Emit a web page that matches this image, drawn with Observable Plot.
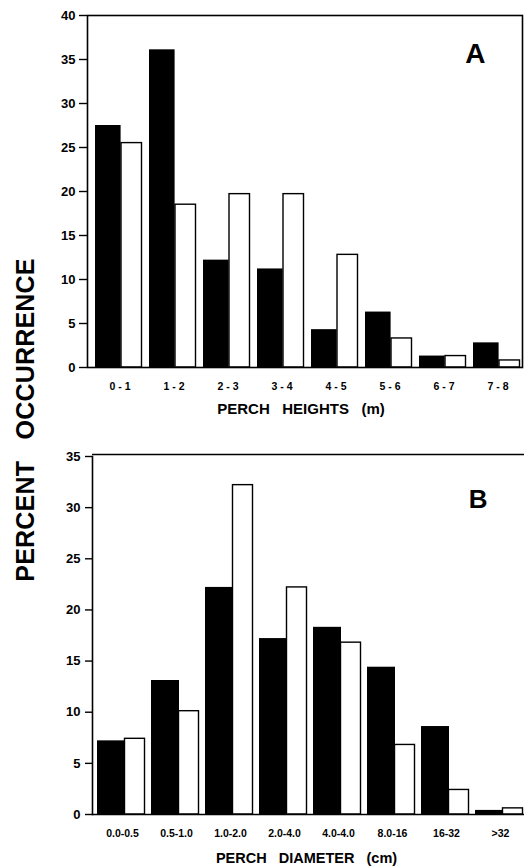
<!DOCTYPE html>
<html>
<head>
<meta charset="utf-8">
<script src="https://cdn.jsdelivr.net/npm/d3@7"></script>
<script src="https://cdn.jsdelivr.net/npm/@observablehq/plot@0.6"></script>
<style>
  html, body { margin: 0; padding: 0; background: #fff; }
  #wrap { position: relative; width: 531px; height: 868px; overflow: hidden; background: #fff; }
  #panelA { position: absolute; left: 0; top: 0; }
  #panelB { position: absolute; left: 0; top: 420px; }
  #ylab {
    position: absolute; left: 25px; top: 420px;
    transform: translate(-50%, -50%) rotate(-90deg);
    font-family: "Liberation Sans", Arial, sans-serif; font-weight: bold;
    font-size: 25px; white-space: nowrap; letter-spacing: 0.2px; color: #000;
  }
</style>
</head>
<body>
<div id="wrap">
  <div id="panelA"></div>
  <div id="panelB"></div>
  <div id="ylab">PERCENT&nbsp;&nbsp; OCCURRENCE</div>
</div>
<script>
// Panel A: perch heights
const heightCats = ["0 - 1", "1 - 2", "2 - 3", "3 - 4", "4 - 5", "5 - 6", "6 - 7", "7 - 8"];
const heightBlack = [27.5, 36.1, 12.2, 11.2, 4.3, 6.3, 1.3, 2.8];
const heightWhite = [25.5, 18.5, 19.7, 19.7, 12.8, 3.3, 1.3, 0.8];
const heightTicks = [0, 5, 10, 15, 20, 25, 30, 35, 40];

// Panel B: perch diameter
const diamCats = ["0.0-0.5", "0.5-1.0", "1.0-2.0", "2.0-4.0", "4.0-4.0", "8.0-16", "16-32", ">32"];
const diamBlack = [7.2, 13.1, 22.2, 17.2, 18.3, 14.4, 8.6, 0.4];
const diamWhite = [7.4, 10.1, 32.2, 22.2, 16.8, 6.8, 2.4, 0.6];
const diamTicks = [0, 5, 10, 15, 20, 25, 30, 35];

const heightData = heightCats.map((c, i) => ({cat: c, black: heightBlack[i], white: heightWhite[i]}));
const diamData = diamCats.map((c, i) => ({cat: c, black: diamBlack[i], white: diamWhite[i]}));

const font = {fontFamily: "'Liberation Sans', Arial, sans-serif", fontWeight: "bold", background: "#fff", color: "#000", overflow: "visible"};

const plotA = Plot.plot({
  width: 531, height: 420,
  marginLeft: 87, marginRight: 9, marginTop: 15, marginBottom: 53,
  style: font,
  x: {domain: heightCats, padding: 0},
  y: {domain: [0, 40]},
  marks: [
    Plot.barY(heightData, {x: "cat", y: "black", fill: "black", insetLeft: 6, insetRight: 22.4}),
    Plot.barY(heightData, {x: "cat", y: "white", fill: "white", stroke: "black", strokeWidth: 1.4, insetLeft: 32, insetRight: 1.5}),
    Plot.frame({stroke: "black", strokeWidth: 1.6}),
    Plot.axisY({ticks: heightTicks, tickSize: 8, tickPadding: 4, fontSize: 13, fontWeight: "bold", label: null, strokeWidth: 1.4, style: {letterSpacing: "1px"}}),
    Plot.axisX({tickSize: 0, tickPadding: 15, fontSize: 10.5, fontWeight: "bold", dx: 3.5, label: null, style: {letterSpacing: "1px"}}),
    Plot.text(["PERCH\u00a0\u00a0 HEIGHTS\u00a0\u00a0 (m)"], {frameAnchor: "bottom", lineAnchor: "middle", dy: 42, dx: -4, fontSize: 15, fontWeight: "bold", style: {letterSpacing: "0.8px"}}),
    Plot.text(["A"], {frameAnchor: "top-right", textAnchor: "end", lineAnchor: "top", dx: -37, dy: 28, fontSize: 28, fontWeight: "bold"})
  ]
});
document.getElementById("panelA").appendChild(plotA);

const plotB = Plot.plot({
  width: 531, height: 448,
  marginLeft: 92, marginRight: 7, marginTop: 36, marginBottom: 54,
  style: font,
  x: {domain: diamCats, padding: 0},
  y: {domain: [0, 35]},
  marks: [
    Plot.barY(diamData, {x: "cat", y: "black", fill: "black", insetLeft: 5, insetRight: 21}),
    Plot.barY(diamData, {x: "cat", y: "white", fill: "white", stroke: "black", strokeWidth: 1.4, insetLeft: 32.5, insetRight: 1.5}),
    Plot.ruleY([0], {stroke: "black", strokeWidth: 1.6}),
    Plot.ruleY([35], {stroke: "black", strokeWidth: 1.4, dy: -2}),
    Plot.frame({anchor: "left", stroke: "black", strokeWidth: 1.6}),
    Plot.axisY({ticks: diamTicks, tickSize: 7, tickPadding: 5, fontSize: 13, fontWeight: "bold", label: null, strokeWidth: 1.4, style: {letterSpacing: "1px"}}),
    Plot.axisX({tickSize: 0, tickPadding: 15, fontSize: 10.5, fontWeight: "bold", dx: 3, label: null, style: {letterSpacing: "0.7px"}}),
    Plot.text(["PERCH\u00a0\u00a0 DIAMETER\u00a0\u00a0 (cm)"], {frameAnchor: "bottom", lineAnchor: "middle", dy: 44, dx: -2, fontSize: 14.5, fontWeight: "bold", style: {letterSpacing: "0.6px"}}),
    Plot.text(["B"], {frameAnchor: "top-right", textAnchor: "end", lineAnchor: "top", dx: -37, dy: 33, fontSize: 26, fontWeight: "bold"})
  ]
});
document.getElementById("panelB").appendChild(plotB);
</script>
</body>
</html>
